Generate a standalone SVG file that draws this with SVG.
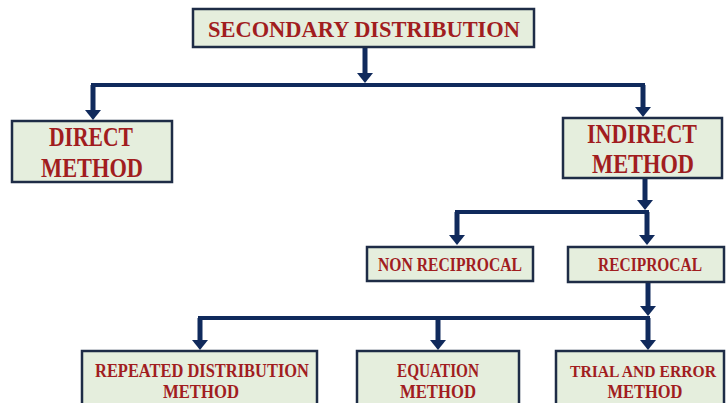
<svg xmlns="http://www.w3.org/2000/svg" width="726" height="403" viewBox="0 0 726 403">
<defs>
<style>
.box{fill:#e5eedd;stroke:#1e2c46;stroke-width:2.5}
.t{font-family:"Liberation Serif","Times New Roman",serif;font-weight:bold;fill:#a11d1f;text-anchor:middle}
.big{font-size:27px}
.mid{font-size:24px}
.sm{font-size:19px}
.xs{font-size:16.5px}
.c{fill:none;stroke:#102a5c;stroke-width:5}
.h{fill:none;stroke:#102a5c;stroke-width:4}
</style>
<marker id="ah" markerUnits="userSpaceOnUse" markerWidth="12" markerHeight="18" viewBox="0 -9 12 18" refX="2" refY="0" orient="auto">
<path d="M0,-8 L10,0 L0,8 z" fill="#102a5c"/>
</marker>
</defs>
<rect width="726" height="403" fill="#ffffff"/>
<g id="connectors">
<path class="c" d="M365,47 V75" marker-end="url(#ah)"/>
<path class="h" d="M91,85 H645"/>
<path class="c" d="M93,85 V112" marker-end="url(#ah)"/>
<path class="c" d="M643,85 V109" marker-end="url(#ah)"/>
<path class="c" d="M645,178 V202" marker-end="url(#ah)"/>
<path class="h" d="M455,212 H649"/>
<path class="c" d="M457,212 V237" marker-end="url(#ah)"/>
<path class="c" d="M647,212 V237" marker-end="url(#ah)"/>
<path class="c" d="M648,282 V308" marker-end="url(#ah)"/>
<path class="h" d="M198,318 H650"/>
<path class="c" d="M200,318 V342" marker-end="url(#ah)"/>
<path class="c" d="M438,318 V342" marker-end="url(#ah)"/>
<path class="c" d="M648,318 V342" marker-end="url(#ah)"/>
</g>
<g id="secondary">
<rect class="box" x="193" y="9" width="341" height="38"/>
<text class="t mid" x="364" y="37" textLength="312" lengthAdjust="spacingAndGlyphs">SECONDARY DISTRIBUTION</text>
</g>
<g id="direct">
<rect class="box" x="12" y="121" width="160" height="61"/>
<text class="t big" x="91" y="146" textLength="84" lengthAdjust="spacingAndGlyphs">DIRECT</text>
<text class="t big" x="92" y="177" textLength="102" lengthAdjust="spacingAndGlyphs">METHOD</text>
</g>
<g id="indirect">
<rect class="box" x="563" y="118" width="159" height="60"/>
<text class="t big" x="642" y="143" textLength="110" lengthAdjust="spacingAndGlyphs">INDIRECT</text>
<text class="t big" x="643" y="173" textLength="102" lengthAdjust="spacingAndGlyphs">METHOD</text>
</g>
<g id="nonreciprocal">
<rect class="box" x="367" y="247" width="166" height="34"/>
<text class="t sm" x="450" y="271" textLength="144" lengthAdjust="spacingAndGlyphs">NON RECIPROCAL</text>
</g>
<g id="reciprocal">
<rect class="box" x="568" y="247" width="156" height="35"/>
<text class="t sm" x="650" y="271" textLength="104" lengthAdjust="spacingAndGlyphs">RECIPROCAL</text>
</g>
<g id="repeated">
<rect class="box" x="82" y="351" width="235" height="60"/>
<text class="t sm" x="202" y="377" textLength="214" lengthAdjust="spacingAndGlyphs">REPEATED DISTRIBUTION</text>
<text class="t sm" x="201" y="398" textLength="76" lengthAdjust="spacingAndGlyphs">METHOD</text>
</g>
<g id="equation">
<rect class="box" x="357" y="351" width="162" height="60"/>
<text class="t sm" x="438" y="377" textLength="82" lengthAdjust="spacingAndGlyphs">EQUATION</text>
<text class="t sm" x="438" y="398" textLength="76" lengthAdjust="spacingAndGlyphs">METHOD</text>
</g>
<g id="trial">
<rect class="box" x="556" y="351" width="168" height="60"/>
<text class="t xs" x="643" y="377" textLength="146" lengthAdjust="spacingAndGlyphs">TRIAL AND ERROR</text>
<text class="t sm" x="645" y="398" textLength="75" lengthAdjust="spacingAndGlyphs">METHOD</text>
</g>
</svg>
